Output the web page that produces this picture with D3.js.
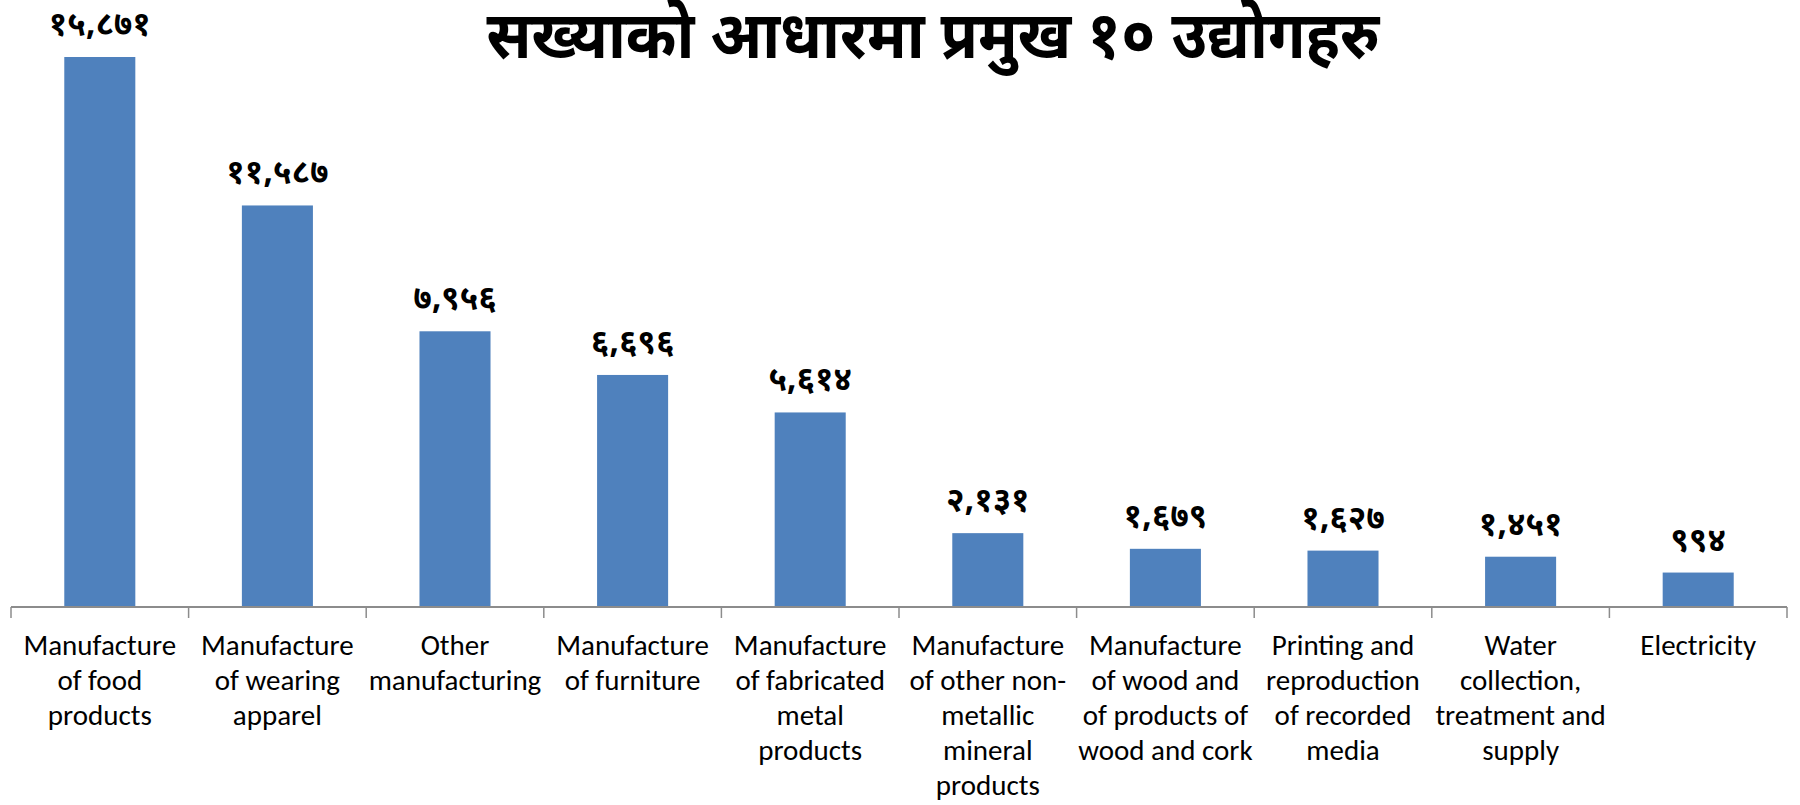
<!DOCTYPE html>
<html>
<head>
<meta charset="utf-8">
<script src="https://cdn.jsdelivr.net/npm/d3@7"></script>
<style>
  html, body { margin: 0; padding: 0; background: #fff; }
  svg { display: block; }
</style>
</head>
<body>
<svg id="chart" width="1800" height="805"></svg>
<script>
const title = "सख्याको आधारमा प्रमुख १० उद्योगहरु";
const categories = [
  ["Manufacture", "of food", "products"],
  ["Manufacture", "of wearing", "apparel"],
  ["Other", "manufacturing"],
  ["Manufacture", "of furniture"],
  ["Manufacture", "of fabricated", "metal", "products"],
  ["Manufacture", "of other non-", "metallic", "mineral", "products"],
  ["Manufacture", "of wood and", "of products of", "wood and cork"],
  ["Printing and", "reproduction", "of recorded", "media"],
  ["Water", "collection,", "treatment and", "supply"],
  ["Electricity"]
];
const values = [15871, 11587, 7956, 6696, 5614, 2131, 1679, 1627, 1451, 994];

const devDigits = "०१२३४५६७८९";
const toDev = s => s.replace(/[0-9]/g, d => devDigits[+d]);
const fmt = d3.format(",");

const svg = d3.select("#chart");
const left = 11, right = 1787, baseY = 607;

const keys = categories.map((c, i) => i);
const x = d3.scaleBand().domain(keys).range([left, right]).paddingInner(0.6).paddingOuter(0.3);
const y = d3.scaleLinear().domain([0, 15871]).range([baseY, 57]);

// bars
svg.append("g").selectAll("rect").data(values).join("rect")
  .attr("x", (d, i) => x(i))
  .attr("y", d => y(d))
  .attr("width", x.bandwidth())
  .attr("height", d => baseY - y(d))
  .attr("fill", "#4F81BD");

// axis
const step = x.step();
const axisG = svg.append("g").attr("transform", `translate(0,${baseY})`);
axisG.call(d3.axisBottom(x).tickSize(0).tickFormat(""));
axisG.select(".domain").attr("stroke", "#8c8c8c").attr("stroke-width", 2).attr("d", `M${left},0H${right}`);
const bounds = d3.range(categories.length + 1).map(i => left + i * step);
axisG.selectAll("line.sep").data(bounds).join("line").attr("class", "sep")
  .attr("x1", d => d).attr("x2", d => d).attr("y1", 0).attr("y2", 11)
  .attr("stroke", "#8c8c8c").attr("stroke-width", 1.5);

// category labels
const labG = svg.append("g");
categories.forEach((lines, i) => {
  const cx = x(i) + x.bandwidth() / 2;
  const t = labG.append("text")
    .attr("text-anchor", "middle")
    .attr("font-family", "Carlito, Calibri, 'Liberation Sans', Arial, sans-serif")
    .attr("font-size", 29)
    .attr("fill", "#000");
  lines.forEach((ln, j) => {
    t.append("tspan").attr("x", cx).attr("y", 655 + j * 35).text(ln);
  });
});

// value labels
svg.append("g").selectAll("text").data(values).join("text")
  .attr("x", (d, i) => x(i) + x.bandwidth() / 2)
  .attr("y", d => y(d) - 22)
  .attr("text-anchor", "middle")
  .attr("font-family", "'Noto Sans Devanagari', 'Lohit Devanagari', Mangal, 'Noto Sans', sans-serif")
  .attr("font-size", 33)
  .attr("font-weight", "bold")
  .attr("fill", "#000")
  .text(d => toDev(fmt(d)));

// title
svg.append("text")
  .attr("transform", "translate(933,58) scale(1,1.08)")
  .attr("text-anchor", "middle")
  .attr("font-family", "'Noto Sans Devanagari', 'Lohit Devanagari', Mangal, 'Noto Sans', sans-serif")
  .attr("font-size", 61)
  .attr("font-weight", "bold")
  .attr("fill", "#000")
  .text(title);
</script>
</body>
</html>
